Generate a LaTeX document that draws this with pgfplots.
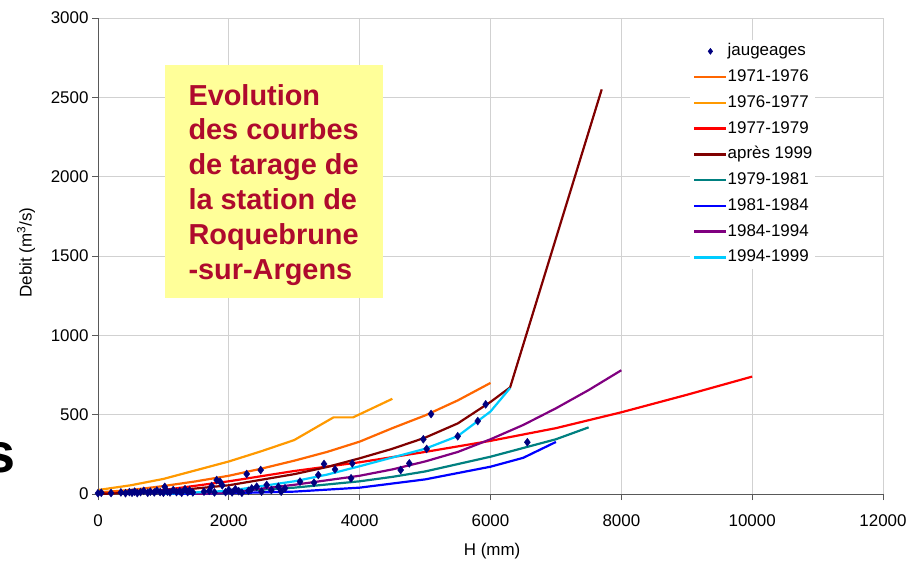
\documentclass[border=0pt]{standalone}
\usepackage{pgfplots}
\pgfplotsset{compat=1.18}
\usepackage{fontspec}
\setmainfont{Liberation Sans}
\definecolor{cA}{HTML}{FF6600}
\definecolor{cB}{HTML}{FF9900}
\definecolor{cC}{HTML}{FF0000}
\definecolor{cD}{HTML}{800000}
\definecolor{cE}{HTML}{008080}
\definecolor{cF}{HTML}{0000FF}
\definecolor{cG}{HTML}{800080}
\definecolor{cH}{HTML}{00CCFF}
\definecolor{navy}{HTML}{000080}
\definecolor{boxyellow}{HTML}{FFFF99}
\definecolor{titlered}{RGB}{175,10,45}
\begin{document}
\begin{tikzpicture}
\path[use as bounding box] (-98bp,-67bp) rectangle (817bp,494bp);
\begin{axis}[
  scale only axis, width=785bp, height=476bp,
  xmin=0, xmax=12000, ymin=0, ymax=3000,
  xtick={0,2000,...,12000}, ytick={0,500,...,3000},
  axis lines*=left,
  grid=major, grid style={draw=black!18, line width=0.9bp},
  axis line style={draw=black!65, line width=0.9bp},
  tick style={draw=black!65, line width=0.9bp},
  tick align=outside, major tick length=6bp,
  tick label style={font=\fontsize{17}{20}\selectfont},
  xticklabel style={yshift=-11bp},
  /pgf/number format/assume math mode=true,
  /pgf/number format/set thousands separator={},
  scaled ticks=false,
  xlabel={H (mm)}, ylabel={Debit (m\textsuperscript{3}/s)},
  every axis x label/.style={at={(rel axis cs:0.502,-0.1197)}, anchor=center, font=\fontsize{17}{20}\selectfont},
  every axis y label/.style={at={(rel axis cs:-0.0917,0.507)}, rotate=90, anchor=center, font=\fontsize{17}{20}\selectfont},
  legend style={at={(rel axis cs:0.754,0.9546)}, anchor=north west, draw=none, fill=white,
    inner sep=3bp, font=\fontsize{17}{20}\selectfont,
    nodes={inner sep=0pt, text height=13bp, text depth=4bp}},
  legend cell align=left,
  legend image code/.code={\draw[mark repeat=2,mark phase=2,line width=2.6bp] plot coordinates {(0bp,0bp) (16bp,0bp) (32bp,0bp)};},
  /tikz/every even column/.append style={column sep=5bp},
  legend style={row sep=8.75bp},
]
\addlegendimage{only marks, mark=diamond*, mark size=3bp, color=navy, mark options={line width=0.5bp}}
\addlegendentry{jaugeages}
\addplot[cA, line width=2.2bp] coordinates {(0,10)(500,25)(1000,50)(1500,80)(2000,115)(2500,160)(3000,210)(3500,265)(4000,330)(4500,415)(5000,495)(5500,590)(6000,700)};
\addlegendentry{1971-1976}
\addplot[cB, line width=2.2bp] coordinates {(0,25)(500,55)(1000,95)(1500,150)(2000,205)(2500,270)(3000,340)(3600,483)(3900,483)(4500,600)};
\addlegendentry{1976-1977}
\addplot[cC, line width=2.2bp] coordinates {(0,0)(1000,25)(2000,80)(3000,145)(4000,200)(5000,265)(6000,335)(7000,415)(8000,515)(9000,625)(10000,740)};
\addlegendentry{1977-1979}
\addplot[cD, line width=2.2bp] coordinates {(0,0)(1000,15)(2000,55)(3000,125)(3500,170)(4000,225)(4500,285)(5000,355)(5500,445)(6000,580)(6300,672)(7700,2550)};
\addlegendentry{après 1999}
\addplot[cE, line width=2.2bp] coordinates {(1000,0)(2000,15)(3000,40)(4000,80)(4500,108)(5000,142)(6000,235)(7000,345)(7500,420)};
\addlegendentry{1979-1981}
\addplot[cF, line width=2.2bp] coordinates {(1000,0)(2000,5)(3000,15)(4000,40)(5000,92)(6000,172)(6500,228)(7000,328)};
\addlegendentry{1981-1984}
\addplot[cG, line width=2.2bp] coordinates {(1500,0)(2000,10)(3000,58)(4000,115)(4500,155)(5000,205)(5500,265)(6000,345)(6500,435)(7000,540)(7500,655)(8000,780)};
\addlegendentry{1984-1994}
\addplot[cH, line width=2.2bp] coordinates {(1000,0)(2000,20)(3000,80)(3500,122)(4000,175)(4500,230)(5000,285)(5500,365)(6000,520)(6300,668)};
\addlegendentry{1994-1999}
\addplot[only marks, mark=diamond*, mark size=4bp, color=navy, forget plot] coordinates {
(0,5)(50,8)(200,6)(350,10)(420,5)(480,12)(520,8)(560,15)(600,6)(650,12)(700,20)(760,8)(800,15)(860,10)(900,22)(950,12)(1000,8)(1020,45)(1060,15)(1100,10)(1150,25)(1200,12)(1250,18)(1280,8)(1330,30)(1370,12)(1400,22)(1450,10)(1620,15)(1700,20)(1738,50)(1780,10)(1814,88)(1865,78)(1900,55)(1950,12)(2000,25)(2050,10)(2100,30)(2150,18)(2200,8)(2273,126)(2300,20)(2350,35)(2426,46)(2487,151)(2500,15)(2579,57)(2650,25)(2757,46)(2800,15)(2859,36)
(3088,78)(3302,71)(3368,120)(3455,189)(3623,155)(3868,99)(3888,193)(4627,151)(4759,193)(4973,345)(5024,284)(5091,504)(5499,364)(5805,460)(5927,565)(6563,326)};
\end{axis}
\fill[boxyellow] (67bp,196bp) rectangle (285bp,429bp);
\begin{scope}[every node/.style={anchor=base west, inner sep=0pt, text=titlered, font=\bfseries\fontsize{29}{35}\selectfont}]
\node at (90.3bp,388.3bp) {Evolution};
\node at (90.3bp,354bp) {des courbes};
\node at (90.3bp,319bp) {de tarage de};
\node at (90.3bp,284bp) {la station de};
\node at (90.3bp,249bp) {Roquebrune};
\node at (90.3bp,214bp) {-sur-Argens};
\end{scope}
\node[anchor=base east, inner sep=0pt, font=\bfseries\fontsize{56}{60}\selectfont] at (-82bp,22bp) {s};
\end{tikzpicture}
\end{document}
